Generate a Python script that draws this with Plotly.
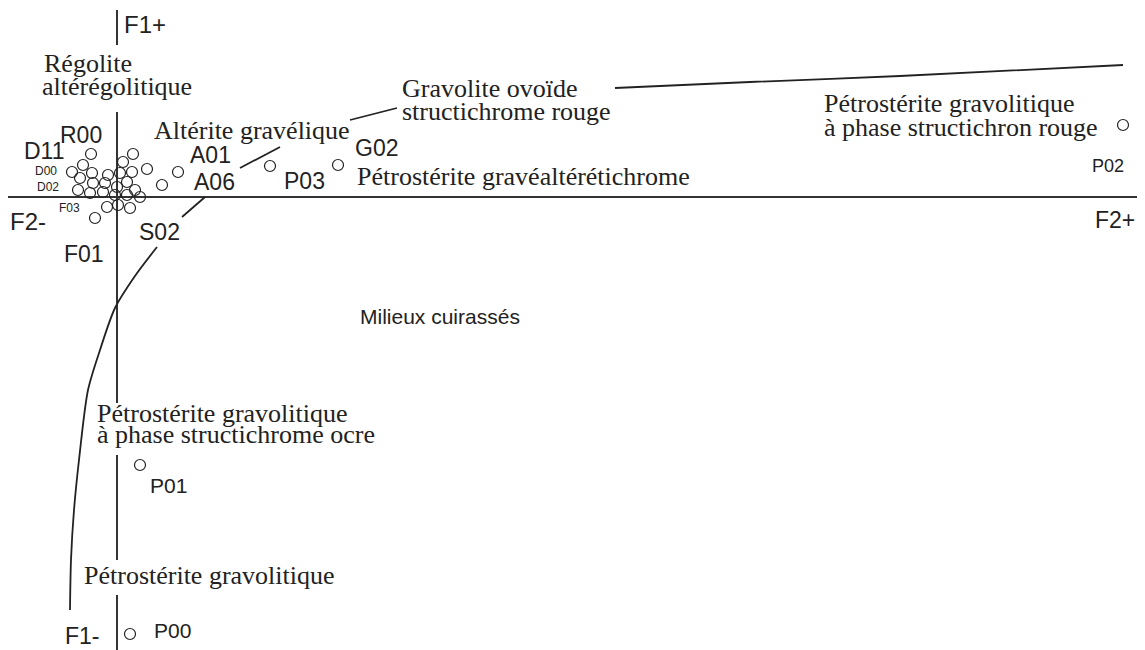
import plotly.graph_objects as go

# ============================================================================
# DATA  (factor plane: F2 horizontal, F1 vertical)
# ============================================================================
# sample scores
sample_f2 = [-0.26, 0.16, 0.06, -0.34, -0.45, 0.15, 0.30, -0.25, -0.37, -0.09,
             0.03, -0.24, -0.39, -0.12, 0.10, 0.00, 0.18, -0.27, -0.14, -0.02,
             0.10, 0.23, -0.10, 0.01, 0.13, -0.22, 0.45, 0.61,
             1.53, 2.21, 10.06, 0.23, 0.13]
sample_f1 = [0.43, 0.43, 0.35, 0.32, 0.25, 0.25, 0.28, 0.24, 0.19, 0.22,
             0.24, 0.14, 0.07, 0.14, 0.15, 0.10, 0.07, 0.04, 0.05, 0.02,
             0.02, 0.00, -0.10, -0.08, -0.11, -0.21, 0.12, 0.25,
             0.31, 0.32, 0.72, -2.68, -4.37]

# boundary of the "milieux cuirassés" domain (None = interrupted by a label)
boundary_f2 = [-0.47, -0.46, -0.43, -0.38, -0.29, -0.17, -0.02, 0.18, 0.40, None,
               0.65, 0.88, None,
               1.23, 1.63, None,
               2.33, 2.80, None,
               4.98, 6.33, 7.83, 10.06]
boundary_f1 = [-4.13, -3.63, -3.13, -2.63, -1.93, -1.53, -1.11, -0.79, -0.50, None,
               -0.20, 0.00, None,
               0.29, 0.50, None,
               0.77, 0.89, None,
               1.09, 1.15, 1.21, 1.32]

# stretches of the F1 axis hidden behind the class names (F1 from, F1 to)
axis_breaks = [(1.52, 0.85), (-2.06, -2.58), (-3.63, -3.98)]

SERIF = "Liberation Serif, Times New Roman, serif"
SANS = "Liberation Sans, Arial, Helvetica, sans-serif"
INK = "#222222"

fig = go.Figure()

fig.add_trace(go.Scatter(
    x=boundary_f2, y=boundary_f1,
    mode="lines",
    line=dict(color=INK, width=1.8, shape="spline", smoothing=0.8),
    connectgaps=False,
    hoverinfo="skip",
))

fig.add_trace(go.Scatter(
    x=sample_f2, y=sample_f1,
    mode="markers",
    marker=dict(symbol="circle-open", size=11, color=INK, line=dict(width=1.2)),
))

# white knock-outs interrupt the F1 axis line behind the text blocks
for y0, y1 in axis_breaks:
    fig.add_shape(type="rect", xref="x", yref="y",
                  x0=-0.05, x1=0.05, y0=y0, y1=y1,
                  fillcolor="white", line_width=0, layer="above")

# ----------------------------------------------------------------------------
# labels
# ----------------------------------------------------------------------------
serif_labels = [
    ("Régolite", -0.75, 1.34),
    ("altérégolitique", -0.77, 1.11),
    ("Altérite gravélique", 0.35, 0.67),
    ("Gravolite ovoïde", 2.83, 1.09),
    ("structichrome rouge", 2.83, 0.86),
    ("Pétrostérite gravéaltérétichrome", 2.38, 0.21),
    ("Pétrostérite gravolitique", 7.05, 0.94),
    ("à phase structichron rouge", 7.05, 0.70),
    ("Pétrostérite gravolitique", -0.22, -2.16),
    ("à phase structichrome ocre", -0.22, -2.37),
    ("Pétrostérite gravolitique", -0.35, -3.78),
]
for text, x, y in serif_labels:
    fig.add_annotation(
        x=x, y=y, text=text, showarrow=False,
        xanchor="left", yanchor="middle",
        font=dict(family=SERIF, size=26, color=INK),
    )

sans_labels = [
    ("F1+", 0.05, 1.73, 24),
    ("F1-", -0.54, -4.39, 23),
    ("F2-", -1.09, -0.24, 24),
    ("F2+", 9.76, -0.23, 23),
    ("R00", -0.59, 0.62, 23),
    ("D11", -0.95, 0.46, 23),
    ("D00", -0.84, 0.26, 12),
    ("D02", -0.82, 0.10, 12),
    ("F03", -0.60, -0.11, 12),
    ("F01", -0.55, -0.57, 23),
    ("S02", 0.20, -0.35, 23),
    ("A01", 0.71, 0.42, 23),
    ("A06", 0.75, 0.15, 23),
    ("P03", 1.65, 0.16, 23),
    ("G02", 2.36, 0.49, 23),
    ("P02", 9.73, 0.31, 18),
    ("P01", 0.31, -2.88, 21),
    ("P00", 0.35, -4.33, 21),
    ("Milieux cuirassés", 2.41, -1.19, 21),
]
for text, x, y, size in sans_labels:
    fig.add_annotation(
        x=x, y=y, text=text, showarrow=False,
        xanchor="left", yanchor="middle",
        font=dict(family=SANS, size=size, color=INK),
    )

# axes: only the two zero lines (F1 and F2 axes) are drawn
fig.update_xaxes(range=[-1.09, 10.23], showgrid=False, showticklabels=False,
                 ticks="", showline=False, zeroline=True,
                 zerolinecolor="#333333", zerolinewidth=1.6)
fig.update_yaxes(range=[-4.53, 1.87], showgrid=False, showticklabels=False,
                 ticks="", showline=False, zeroline=True,
                 zerolinecolor="#333333", zerolinewidth=1.6)

# page body adds an 8px margin: figure is sized so the plot spans the window
fig.update_layout(
    width=1137, height=642,
    margin=dict(l=0, r=5, t=2, b=0),
    paper_bgcolor="white", plot_bgcolor="white",
    showlegend=False,
)

fig.write_html("out.html")
